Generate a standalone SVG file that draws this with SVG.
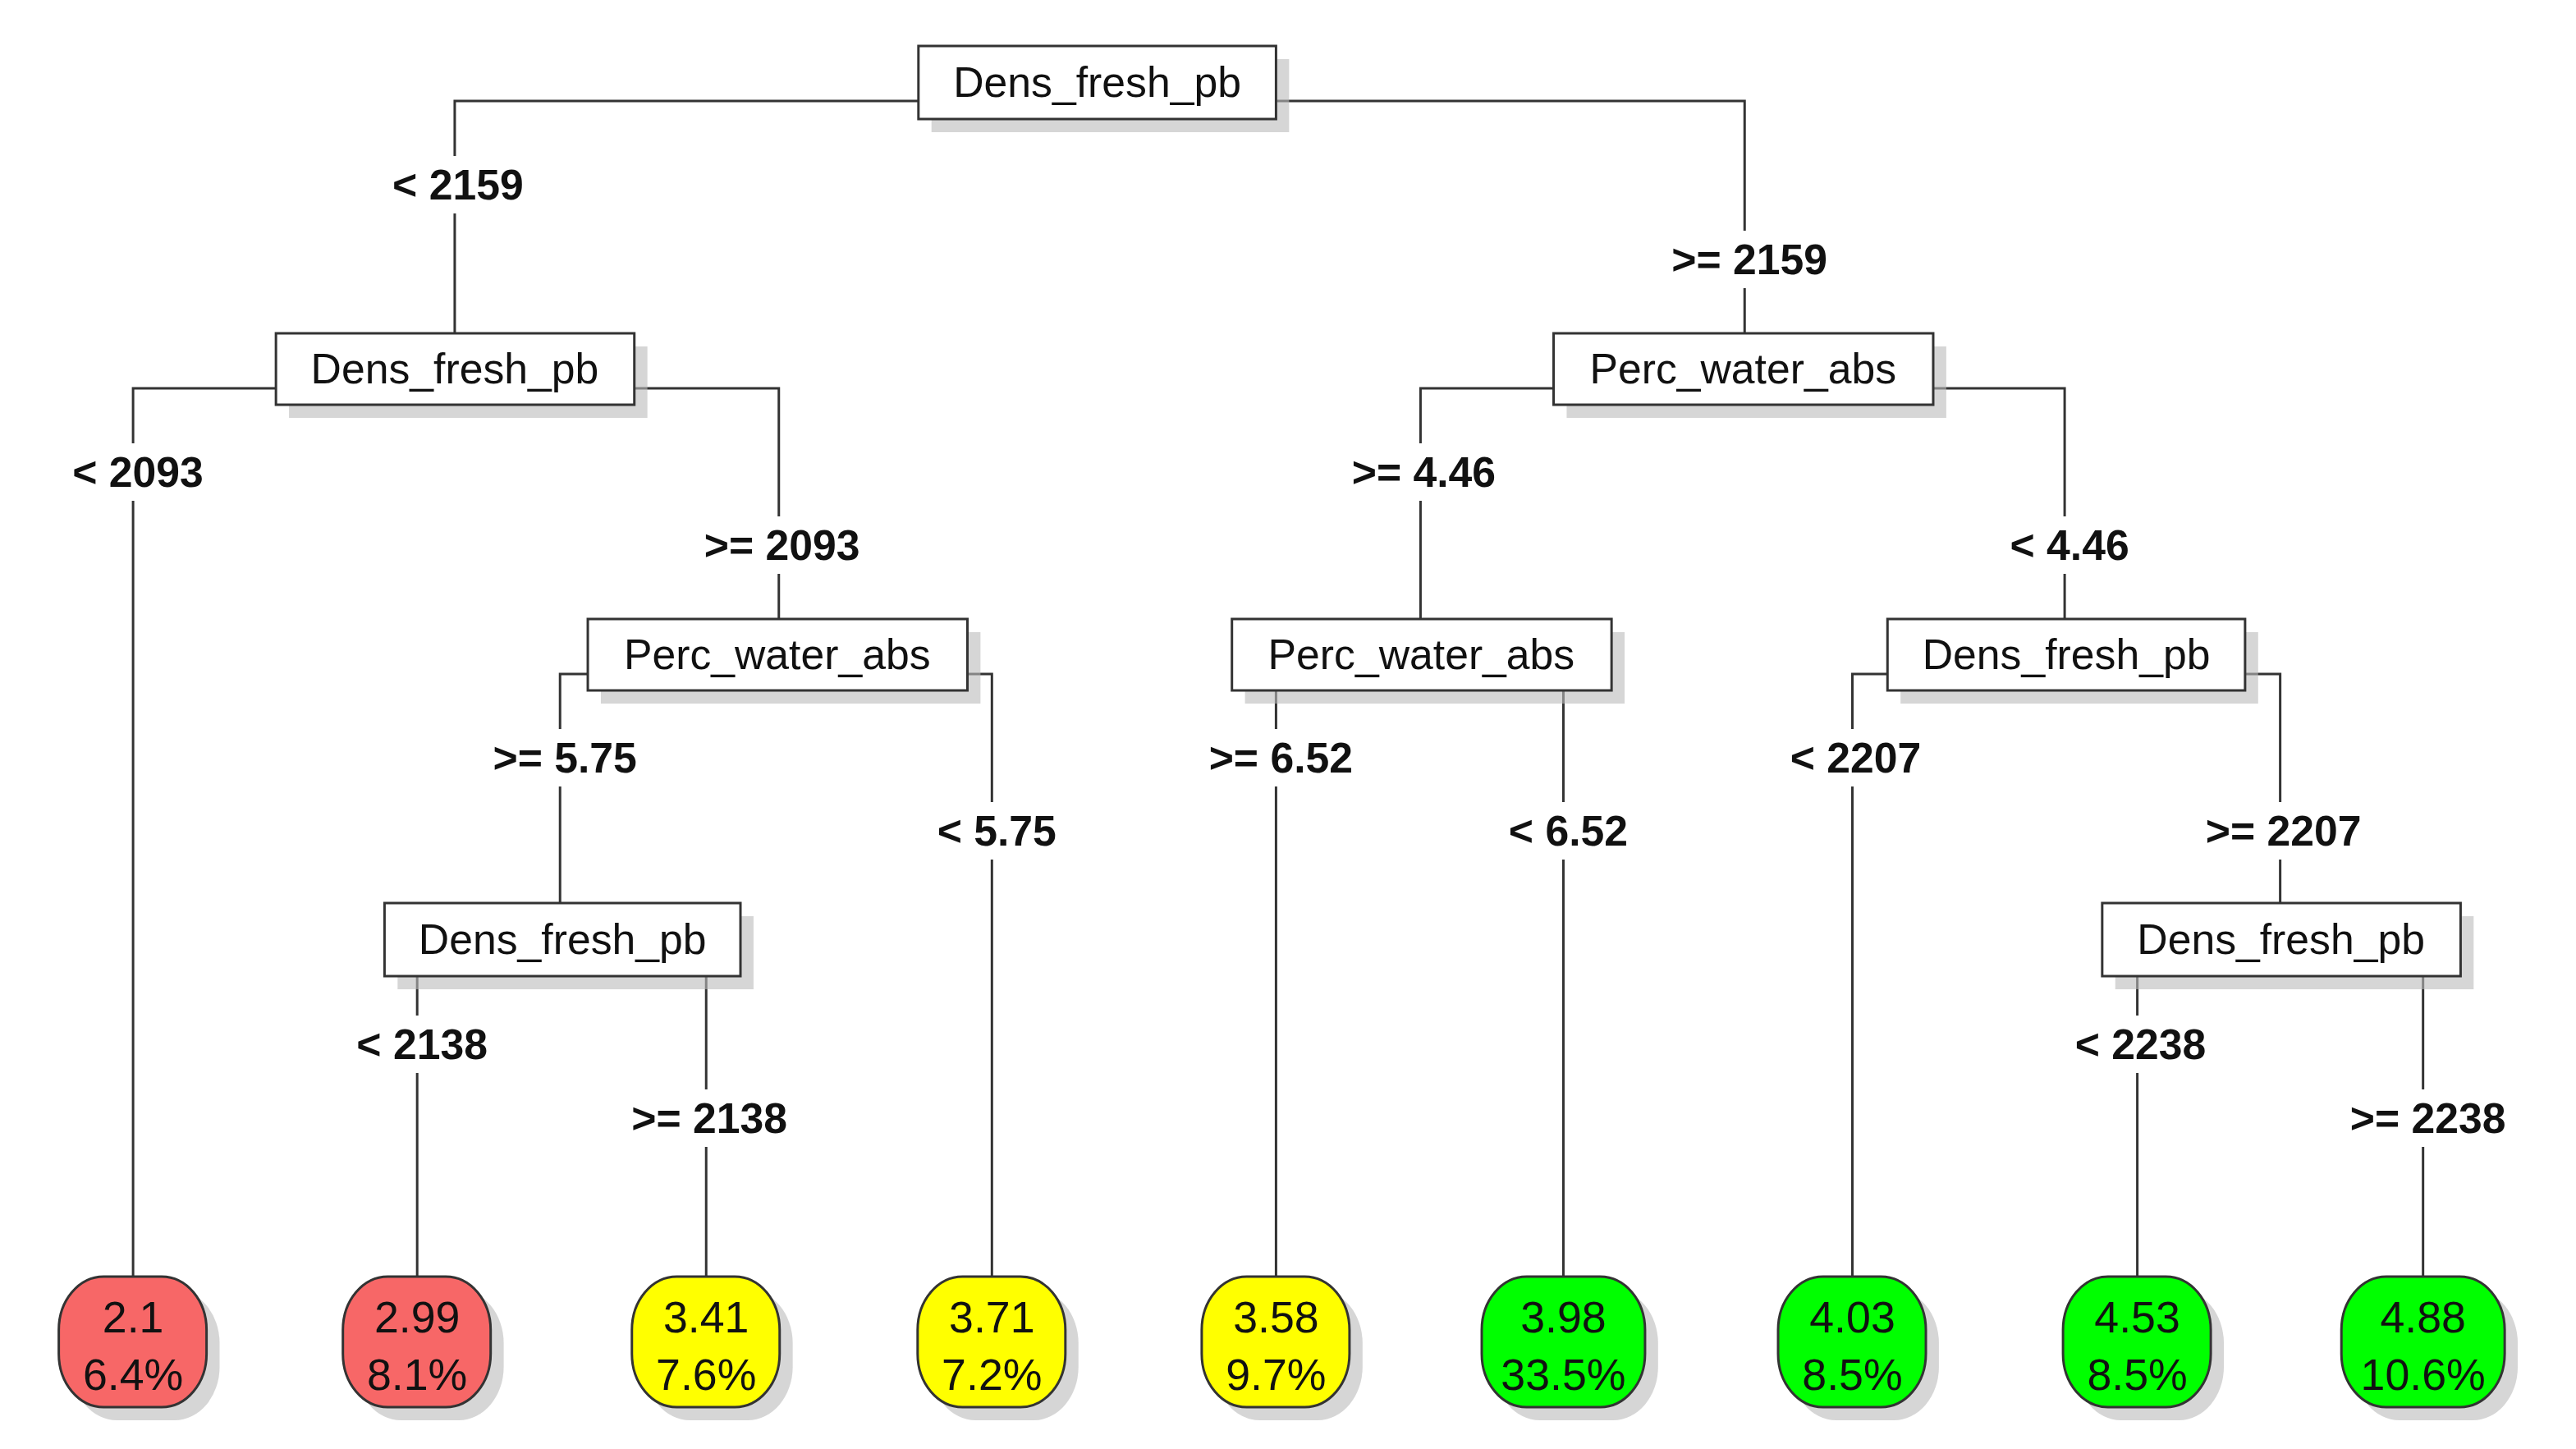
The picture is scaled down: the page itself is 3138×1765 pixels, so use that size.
<svg xmlns="http://www.w3.org/2000/svg" width="3138" height="1765" viewBox="0 0 3138 1765">
<style>
.bx{fill:#fff;stroke:#333;stroke-width:3}
.sh{fill:#bbb;opacity:.6}
.bt{font-family:"Liberation Sans",Arial,sans-serif;font-size:52px;text-anchor:middle;fill:#111}
.lb{font-family:"Liberation Sans",Arial,sans-serif;font-size:52px;font-weight:bold;text-anchor:middle;fill:#111}
.lbg{fill:#fff}
.ln{fill:none;stroke:#333;stroke-width:3}
.lf{stroke:#333;stroke-width:3}
.lt{font-family:"Liberation Sans",Arial,sans-serif;font-size:54px;text-anchor:middle;fill:#111}
</style>
<rect width="3138" height="1765" fill="#fff"/>
<g transform="scale(0.9945 1)">
<g id="connectors">
<path class="ln" d="M557 473V123H2137V406M163 1555V473H954V754M686 1100V821H1215V1555M511 1189V1555M865 1189V1555M1740 754V473H2529V754M1563 841V1555M1915 841V1555M2269 1555V821H2793V1100M2618 1189V1555M2968 1189V1555"/>
<g id="labels">
<rect class="lbg" x="455" y="190" width="210" height="70"/><text class="lb" x="561" y="243">&lt; 2159</text>
<rect class="lbg" x="2025" y="281" width="236" height="70"/><text class="lb" x="2143" y="334">&gt;= 2159</text>
<rect class="lbg" x="63" y="540" width="212" height="70"/><text class="lb" x="169" y="593">&lt; 2093</text>
<rect class="lbg" x="840" y="629" width="236" height="70"/><text class="lb" x="958" y="682">&gt;= 2093</text>
<rect class="lbg" x="574" y="888" width="236" height="70"/><text class="lb" x="692" y="941">&gt;= 5.75</text>
<rect class="lbg" x="1115" y="977" width="212" height="70"/><text class="lb" x="1221" y="1030">&lt; 5.75</text>
<rect class="lbg" x="411" y="1237" width="212" height="70"/><text class="lb" x="517" y="1290">&lt; 2138</text>
<rect class="lbg" x="751" y="1327" width="236" height="70"/><text class="lb" x="869" y="1380">&gt;= 2138</text>
<rect class="lbg" x="1626" y="540" width="236" height="70"/><text class="lb" x="1744" y="593">&gt;= 4.46</text>
<rect class="lbg" x="2429" y="629" width="212" height="70"/><text class="lb" x="2535" y="682">&lt; 4.46</text>
<rect class="lbg" x="1451" y="888" width="236" height="70"/><text class="lb" x="1569" y="941">&gt;= 6.52</text>
<rect class="lbg" x="1815" y="977" width="212" height="70"/><text class="lb" x="1921" y="1030">&lt; 6.52</text>
<rect class="lbg" x="2167" y="888" width="212" height="70"/><text class="lb" x="2273" y="941">&lt; 2207</text>
<rect class="lbg" x="2679" y="977" width="236" height="70"/><text class="lb" x="2797" y="1030">&gt;= 2207</text>
<rect class="lbg" x="2516" y="1237" width="212" height="70"/><text class="lb" x="2622" y="1290">&lt; 2238</text>
<rect class="lbg" x="2856" y="1327" width="236" height="70"/><text class="lb" x="2974" y="1380">&gt;= 2238</text>
</g>
</g>
<g id="n1"><rect class="sh" x="1141" y="72" width="438" height="89"/><rect class="bx" x="1125" y="56" width="438" height="89"/><text class="bt" x="1344" y="118">Dens_fresh_pb</text></g>
<g id="n2"><rect class="sh" x="354" y="422" width="439" height="87"/><rect class="bx" x="338" y="406" width="439" height="87"/><text class="bt" x="557" y="467">Dens_fresh_pb</text></g>
<g id="n3"><rect class="sh" x="736" y="770" width="465" height="87"/><rect class="bx" x="720" y="754" width="465" height="87"/><text class="bt" x="952" y="815">Perc_water_abs</text></g>
<g id="n4"><rect class="sh" x="487" y="1116" width="436" height="89"/><rect class="bx" x="471" y="1100" width="436" height="89"/><text class="bt" x="689" y="1162">Dens_fresh_pb</text></g>
<g id="n5"><rect class="sh" x="1919" y="422" width="465" height="87"/><rect class="bx" x="1903" y="406" width="465" height="87"/><text class="bt" x="2135" y="467">Perc_water_abs</text></g>
<g id="n6"><rect class="sh" x="1525" y="770" width="465" height="87"/><rect class="bx" x="1509" y="754" width="465" height="87"/><text class="bt" x="1741" y="815">Perc_water_abs</text></g>
<g id="n7"><rect class="sh" x="2328" y="770" width="438" height="87"/><rect class="bx" x="2312" y="754" width="438" height="87"/><text class="bt" x="2531" y="815">Dens_fresh_pb</text></g>
<g id="n8"><rect class="sh" x="2591" y="1116" width="439" height="89"/><rect class="bx" x="2575" y="1100" width="439" height="89"/><text class="bt" x="2794" y="1162">Dens_fresh_pb</text></g>
<g id="l1"><rect class="sh" x="88" y="1571" width="181" height="159" rx="55" ry="65"/><rect class="lf" fill="#f76767" x="72" y="1555" width="181" height="159" rx="55" ry="65"/><text class="lt" x="163" y="1623">2.1</text><text class="lt" x="163" y="1693">6.4%</text></g>
<g id="l2"><rect class="sh" x="436" y="1571" width="181" height="159" rx="55" ry="65"/><rect class="lf" fill="#f76767" x="420" y="1555" width="181" height="159" rx="55" ry="65"/><text class="lt" x="511" y="1623">2.99</text><text class="lt" x="511" y="1693">8.1%</text></g>
<g id="l3"><rect class="sh" x="790" y="1571" width="181" height="159" rx="55" ry="65"/><rect class="lf" fill="#ffff00" x="774" y="1555" width="181" height="159" rx="55" ry="65"/><text class="lt" x="865" y="1623">3.41</text><text class="lt" x="865" y="1693">7.6%</text></g>
<g id="l4"><rect class="sh" x="1140" y="1571" width="181" height="159" rx="55" ry="65"/><rect class="lf" fill="#ffff00" x="1124" y="1555" width="181" height="159" rx="55" ry="65"/><text class="lt" x="1215" y="1623">3.71</text><text class="lt" x="1215" y="1693">7.2%</text></g>
<g id="l5"><rect class="sh" x="1488" y="1571" width="181" height="159" rx="55" ry="65"/><rect class="lf" fill="#ffff00" x="1472" y="1555" width="181" height="159" rx="55" ry="65"/><text class="lt" x="1563" y="1623">3.58</text><text class="lt" x="1563" y="1693">9.7%</text></g>
<g id="l6"><rect class="sh" x="1831" y="1571" width="200" height="159" rx="55" ry="65"/><rect class="lf" fill="#00ff00" x="1815" y="1555" width="200" height="159" rx="55" ry="65"/><text class="lt" x="1915" y="1623">3.98</text><text class="lt" x="1915" y="1693">33.5%</text></g>
<g id="l7"><rect class="sh" x="2194" y="1571" width="181" height="159" rx="55" ry="65"/><rect class="lf" fill="#00ff00" x="2178" y="1555" width="181" height="159" rx="55" ry="65"/><text class="lt" x="2269" y="1623">4.03</text><text class="lt" x="2269" y="1693">8.5%</text></g>
<g id="l8"><rect class="sh" x="2543" y="1571" width="181" height="159" rx="55" ry="65"/><rect class="lf" fill="#00ff00" x="2527" y="1555" width="181" height="159" rx="55" ry="65"/><text class="lt" x="2618" y="1623">4.53</text><text class="lt" x="2618" y="1693">8.5%</text></g>
<g id="l9"><rect class="sh" x="2884" y="1571" width="200" height="159" rx="55" ry="65"/><rect class="lf" fill="#00ff00" x="2868" y="1555" width="200" height="159" rx="55" ry="65"/><text class="lt" x="2968" y="1623">4.88</text><text class="lt" x="2968" y="1693">10.6%</text></g>
</g>
</svg>
